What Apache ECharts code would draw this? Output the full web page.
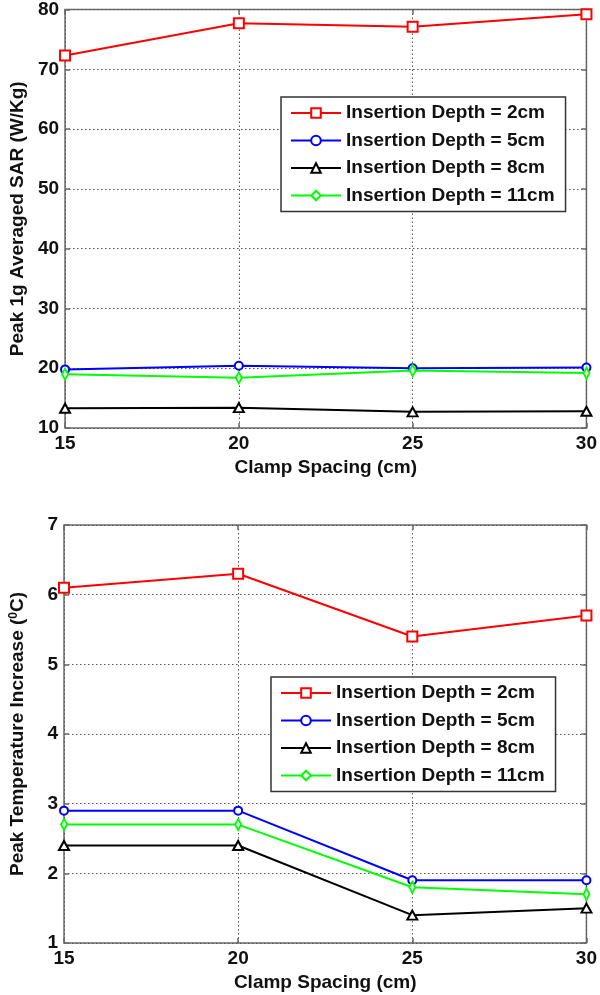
<!DOCTYPE html>
<html>
<head>
<meta charset="utf-8">
<script src="https://cdn.jsdelivr.net/npm/echarts@6/dist/echarts.min.js"></script>
<style>
html,body{margin:0;padding:0;background:#fff;}
#c{width:600px;height:995px;}
</style>
</head>
<body>
<div id="c"></div>
<script>
// ---- data ----
const clampSpacing = [15, 20, 25, 30];
const seriesNames = ['Insertion Depth = 2cm', 'Insertion Depth = 5cm', 'Insertion Depth = 8cm', 'Insertion Depth = 11cm'];
// Top chart: Peak 1g averaged SAR (W/Kg)
const sar2cm  = [72.3, 77.7, 77.1, 79.2];
const sar5cm  = [19.8, 20.4, 20.0, 20.1];
const sar8cm  = [13.3, 13.4, 12.7, 12.8];
const sar11cm = [19.0, 18.4, 19.6, 19.2];
// Bottom chart: Peak temperature increase (0C)
const temp2cm  = [6.1, 6.3, 5.4, 5.7];
const temp5cm  = [2.9, 2.9, 1.9, 1.9];
const temp8cm  = [2.4, 2.4, 1.4, 1.5];
const temp11cm = [2.7, 2.7, 1.8, 1.7];
const xTicks = [15, 20, 25, 30];
const sarTicks = [10, 20, 30, 40, 50, 60, 70, 80];
const tempTicks = [1, 2, 3, 4, 5, 6, 7];

// ---- styles ----
const FONT = 'Liberation Sans, Arial, sans-serif';
const colors = ['#ff0000', '#0000ff', '#000000', '#00ff00'];
const symbols = ['emptyRect', 'emptyCircle', 'emptyTriangle', 'emptyDiamond'];
const symbolSizes = [10, 8, [10, 9], [6, 11]];
const frame = '#6a6a6a';

const chart = echarts.init(document.getElementById('c'), null, {renderer: 'canvas'});

function pairs(vals) { return clampSpacing.map((x, i) => [x, vals[i]]); }

const grids = [
  {left: 56, width: 533, top: 9, height: 419},
  {left: 56, width: 533, top: 525, height: 418}
];

function xAxesFor(gi) {
  const base = {
    type: 'value', gridIndex: gi, min: xTicks[0], max: xTicks[xTicks.length - 1], interval: 5,
    axisLine: {show: false},
    axisTick: {show: true, inside: true, length: 5, lineStyle: {color: frame, width: 1.5}},
  };
  return [
    Object.assign({}, base, {
      position: 'bottom',
      axisLabel: {show: true, margin: 6, color: '#111', fontFamily: FONT, fontWeight: 'bold', fontSize: 19},
      splitLine: {show: true, lineStyle: {color: '#555', width: 1, type: [1.5, 2.5]}},
      name: 'Clamp Spacing (cm)', nameLocation: 'middle', nameGap: 30,
      nameTextStyle: {color: '#111', fontFamily: FONT, fontWeight: 'bold', fontSize: 19}
    }),
    Object.assign({}, base, {position: 'top', axisLabel: {show: false}, splitLine: {show: false}})
  ];
}

function yAxesFor(gi, ticks, name, rich) {
  const base = {
    type: 'value', gridIndex: gi, min: ticks[0], max: ticks[ticks.length - 1], interval: ticks[1] - ticks[0],
    axisLine: {show: false},
    axisTick: {show: true, inside: true, length: 5, lineStyle: {color: frame, width: 1.5}},
  };
  return [
    Object.assign({}, base, {
      position: 'left',
      axisLabel: {show: true, margin: 6, color: '#111', fontFamily: FONT, fontWeight: 'bold', fontSize: 19},
      splitLine: {show: true, lineStyle: {color: '#555', width: 1, type: [1.5, 2.5]}},
      name: name, nameLocation: 'middle', nameGap: 36,
      nameTextStyle: {color: '#111', fontFamily: FONT, fontWeight: 'bold', fontSize: 19, rich: rich || {}}
    }),
    Object.assign({}, base, {position: 'right', axisLabel: {show: false}, splitLine: {show: false}})
  ];
}

const xAxis = xAxesFor(0).concat(xAxesFor(1));
const yAxis = yAxesFor(0, sarTicks, 'Peak 1g Averaged SAR (W/Kg)')
  .concat(yAxesFor(1, tempTicks, 'Peak Temperature Increase ({sup|0}C)', {
    sup: {fontSize: 12, fontWeight: 'bold', fontFamily: FONT, color: '#111', padding: [0, 0, 8, 0]}
  }));

function makeSeries(vals, k, xi, yi) {
  return {
    type: 'line', name: seriesNames[k], xAxisIndex: xi, yAxisIndex: yi,
    data: pairs(vals), symbol: symbols[k], symbolSize: symbolSizes[k],
    showSymbol: true, clip: false, animation: false,
    lineStyle: {color: colors[k], width: 2},
    itemStyle: {color: colors[k], borderColor: colors[k], borderWidth: 1.5},
    z: 3 + k
  };
}

const topVals = [sar2cm, sar5cm, sar8cm, sar11cm];
const botVals = [temp2cm, temp5cm, temp8cm, temp11cm];
const series = [];
topVals.forEach((v, k) => series.push(makeSeries(v, k, 0, 0)));
botVals.forEach((v, k) => series.push(makeSeries(v, k, 2, 2)));

function legendAt(left, top) {
  return {
    orient: 'vertical', left: left, top: top, data: seriesNames,
    itemWidth: 50, itemHeight: 12, itemGap: 7.5,
    padding: [6, 11, 6, 9],
    borderColor: '#333', borderWidth: 1.5, backgroundColor: '#fff',
    selectedMode: false,
    textStyle: {color: '#111', fontFamily: FONT, fontWeight: 'bold', fontSize: 19, lineHeight: 20}
  };
}

chart.setOption({
  backgroundColor: '#fff',
  animation: false,
  grid: grids.map(g => Object.assign({show: true, borderColor: frame, borderWidth: 1.5, backgroundColor: 'transparent'}, g)),
  xAxis: xAxis,
  yAxis: yAxis,
  legend: [legendAt(281, 97), legendAt(271, 677)],
  series: series
});
</script>
</body>
</html>
